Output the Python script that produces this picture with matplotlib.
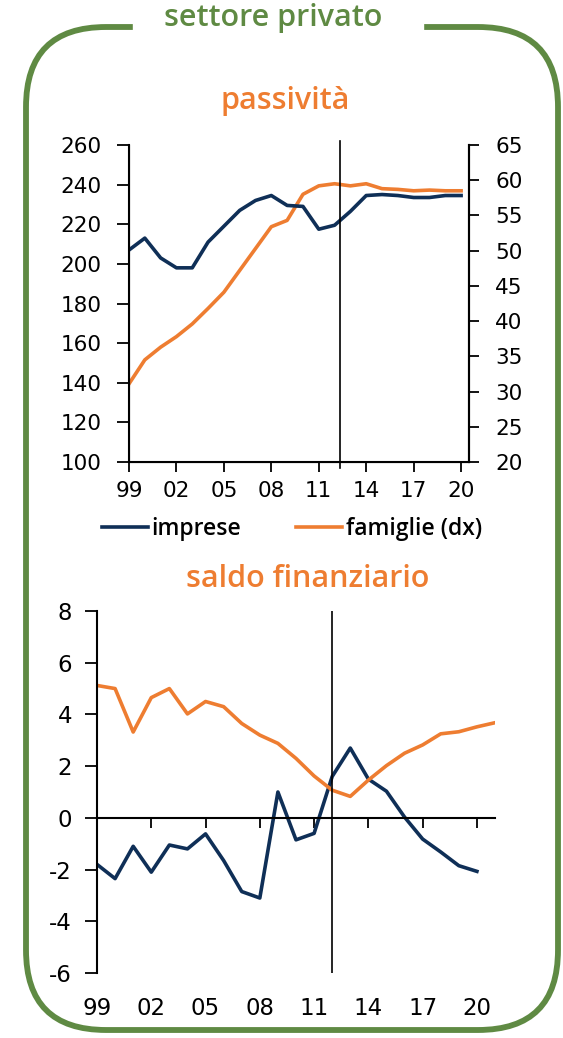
import numpy as np
import matplotlib.pyplot as plt
from matplotlib.patches import FancyBboxPatch

plt.rcParams['axes.unicode_minus'] = False

# passivita' (top panel)
anni_pass = [1999, 2000, 2001, 2002, 2003, 2004, 2005, 2006, 2007, 2008, 2009,
             2010, 2011, 2012, 2013, 2014, 2015, 2016, 2017, 2018, 2019, 2020]
imprese_pass = [207, 213, 203, 198, 198, 211, 219, 227, 232, 234.5, 229.5,
                229, 217.5, 219.5, 226.5, 234.5, 235, 234.5, 233.5, 233.5, 234.5, 234.5]
famiglie_pass = [31.1, 34.5, 36.3, 37.8, 39.6, 41.8, 44.1, 47.2, 50.3, 53.4, 54.3,
                 58.0, 59.2, 59.5, 59.2, 59.5, 58.8, 58.7, 58.5, 58.6, 58.5, 58.5]

# saldo finanziario (bottom panel)
anni_imp = list(range(1999, 2021))
imprese_saldo = [-1.8, -2.35, -1.1, -2.1, -1.05, -1.2, -0.62, -1.65, -2.85, -3.1, 1.0,
                 -0.85, -0.6, 1.6, 2.7, 1.5, 1.03, 0.03, -0.82, -1.32, -1.85, -2.07]
anni_fam = list(range(1999, 2022))
famiglie_saldo = [5.12, 5.0, 3.32, 4.65, 5.0, 4.02, 4.5, 4.3, 3.65, 3.2, 2.88,
                  2.3, 1.62, 1.07, 0.83, 1.46, 2.02, 2.5, 2.82, 3.25, 3.33, 3.52, 3.68]

tick_anni = [1999, 2002, 2005, 2008, 2011, 2014, 2017, 2020]
tick_lab = ['99', '02', '05', '08', '11', '14', '17', '20']

blu = '#0f2f57'
arancio = '#ee7d31'
verde = '#5f8a43'

W, H = 563, 1038
fig = plt.figure(figsize=(W / 100, H / 100), dpi=100)

# frame with rounded corners
bg = fig.add_axes([0, 0, 1, 1])
bg.set_xlim(0, W)
bg.set_ylim(H, 0)
bg.axis('off')
box = FancyBboxPatch((26, 27), 532, 1003, boxstyle='round,pad=0,rounding_size=80',
                     fc='none', ec=verde, lw=4.2)
bg.add_patch(box)
bg.fill_between([133, 423], 15, 40, color='white', zorder=3)
title_kw = dict(family='Open Sans', weight='semibold', fontsize=22,
                ha='center', va='center')
bg.text(273, 18, 'settore privato', color=verde, zorder=4, **title_kw)
bg.text(285, 101, 'passività', color=arancio, **title_kw)
bg.text(308, 579, 'saldo finanziario', color=arancio, **title_kw)

# ---- top panel
ax = fig.add_axes([129 / W, 1 - 462 / H, (469 - 129) / W, (462 - 145) / H])
ax.patch.set_alpha(0)
l1, = ax.plot(anni_pass, imprese_pass, color=blu, lw=2.6, label='imprese')
ax.set_xlim(1999, 2020.5)
ax.set_ylim(100, 260)
ax.set_yticks(np.arange(100, 261, 20))
ax.set_xticks(tick_anni)
ax.set_xticklabels(tick_lab)
ax.spines['top'].set_visible(False)
ax.axvline(2012.35, ymin=-0.02, ymax=1.012, color='black', lw=1.2, clip_on=False)
ax.tick_params(axis='y', direction='out', length=9, width=1.3, pad=11, labelsize=15.5)
ax.tick_params(axis='x', direction='out', length=7, width=1.3, pad=7, labelsize=15.5)
for s in ax.spines.values():
    s.set_linewidth(1.5)

ax_r = ax.twinx()
l2, = ax_r.plot(anni_pass, famiglie_pass, color=arancio, lw=2.6, label='famiglie (dx)')
ax_r.set_ylim(20, 65)
ax_r.set_yticks(np.arange(20, 66, 5))
ax_r.spines['top'].set_visible(False)
ax_r.spines['right'].set_linewidth(1.5)
ax_r.tick_params(axis='y', direction='out', length=7, width=1.3, pad=12, labelsize=15.5)
ax.set_zorder(ax_r.get_zorder() + 1)

fig.legend([l1, l2], ['imprese', 'famiglie (dx)'], loc='center',
           bbox_to_anchor=(292 / W, 1 - 529 / H), ncol=2, frameon=False,
           prop={'family': 'Open Sans', 'weight': 'semibold', 'size': 16.5},
           handlelength=2.0, handletextpad=0.15, columnspacing=2.4)

# ---- bottom panel
ax2 = fig.add_axes([97 / W, 1 - 973 / H, (495 - 97) / W, (973 - 611) / H])
ax2.patch.set_alpha(0)
ax2.plot(anni_imp, imprese_saldo, color=blu, lw=2.6)
ax2.plot(anni_fam, famiglie_saldo, color=arancio, lw=2.6)
ax2.set_xlim(1999, 2021)
ax2.set_ylim(-6, 8)
ax2.set_yticks(np.arange(-6, 9, 2))
ax2.set_xticks(tick_anni[1:])
ax2.tick_params(axis='x', direction='out', length=7, width=1.3, labelbottom=False)
ax2.tick_params(axis='y', direction='out', length=9, width=1.3, pad=9, labelsize=16.5)
ax2.spines['bottom'].set_position(('data', 0))
ax2.spines['top'].set_visible(False)
ax2.spines['right'].set_visible(False)
for s in ax2.spines.values():
    s.set_linewidth(1.5)
ax2.axvline(2012, color='black', lw=1.2)

sec = ax2.secondary_xaxis(0)
sec.set_xticks(tick_anni)
sec.set_xticklabels(tick_lab)
sec.tick_params(length=0, pad=17, labelsize=16.5)
sec.spines['bottom'].set_visible(False)

fig.savefig('out.png', dpi=100)
